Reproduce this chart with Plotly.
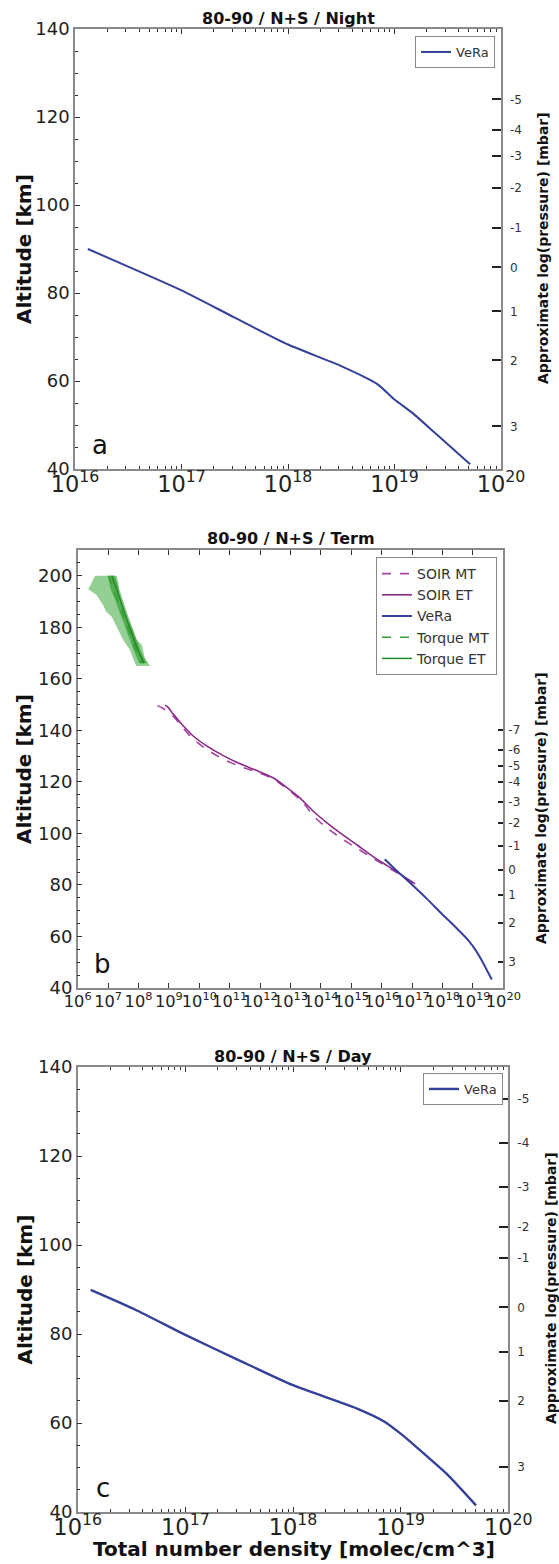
import plotly.graph_objects as go

W, H = 559, 1564
FONT = "DejaVu Sans"

# ---------------- data ----------------
# Panel a: Night, VeRa
night_vera_n = [1.32e16, 3.16e16, 1.0e17, 3.16e17, 1.0e18, 3.16e18, 6.9e18, 1.0e19, 1.48e19, 2.45e19, 5.13e19]
night_vera_alt = [90, 86.0, 80.6, 74.4, 68.3, 63.4, 59.3, 55.8, 52.7, 48.0, 41.1]

# Panel b: Terminator
term_vera_n = [1.26e16, 2.82e16, 1.0e17, 3.16e17, 1.0e18, 2.82e18, 7.08e18, 1.26e19, 2.0e19, 4.17e19]
term_vera_alt = [90, 86.0, 80.1, 74.5, 68.5, 63.4, 58.5, 54.5, 50.5, 43.3]

soir_et_n = [7.41e8, 8.91e8, 1.41e9, 2.95e9, 6.31e9, 1.74e10, 6.17e10, 2.19e11, 7.76e11, 2.69e12,
             7.59e12, 2.04e13, 5.62e13, 1.55e14, 4.27e14, 1.51e15, 5.25e15, 1.45e16, 3.98e16, 1.26e17]
soir_et_alt = [149.8, 149.2, 146.2, 141.8, 137.8, 134.0, 130.2, 127.0, 124.4, 121.6,
               117.8, 113.8, 108.6, 104.2, 100.2, 95.6, 91.0, 87.6, 84.3, 80.4]

soir_mt_n = [4.17e8, 6.31e8, 1.41e9, 2.95e9, 6.31e9, 1.74e10, 6.17e10, 2.19e11, 7.76e11, 2.69e12,
             7.59e12, 2.04e13, 3.55e13, 5.62e13, 1.55e14, 4.27e14, 1.51e15, 5.25e15, 1.45e16, 3.98e16, 1.12e17]
soir_mt_alt = [149.6, 148.6, 145.4, 140.8, 136.6, 132.6, 128.8, 126.0, 123.8, 121.2,
               117.4, 113.2, 110.0, 106.8, 102.2, 98.4, 94.3, 90.3, 87.2, 84.0, 80.6]

torque_alt = [200, 195, 190, 185, 180, 175, 170, 166]
torque_et_n = [1.32e7, 1.91e7, 2.63e7, 3.63e7, 5.01e7, 7.24e7, 1.05e8, 1.51e8]
torque_mt_n = [1.05e7, 1.51e7, 2.14e7, 3.02e7, 4.27e7, 6.17e7, 8.91e7, 1.26e8]
torque_inner_lo = [9.55e6, 1.20e7, 1.78e7, 2.51e7, 3.55e7, 5.25e7, 7.59e7, 1.05e8]
torque_inner_hi = [1.66e7, 2.29e7, 3.16e7, 4.37e7, 6.17e7, 8.91e7, 1.26e8, 1.91e8]

torque_outer_lo_alt = [200, 195.8, 194.8, 192.5, 188.6, 186.1, 184.1, 180.2, 175.1, 171.2, 166, 165]
torque_outer_lo_n = [3.72e6, 2.51e6, 2.24e6, 4.17e6, 6.92e6, 8.51e6, 1.32e7, 1.91e7, 3.16e7, 5.25e7, 7.59e7, 8.71e7]
torque_outer_hi_alt = [165, 168, 173.2, 175.1, 179.6, 183.5, 188, 191.9, 197.1, 200]
torque_outer_hi_n = [2.40e8, 1.62e8, 1.29e8, 8.71e7, 6.03e7, 4.07e7, 2.82e7, 2.34e7, 2.19e7, 1.91e7]

# Panel c: Day, VeRa
day_vera_n = [1.32e16, 3.47e16, 1.0e17, 3.09e17, 1.0e18, 3.89e18, 7.08e18, 1.0e19, 1.51e19, 2.75e19, 5.01e19]
day_vera_alt = [89.9, 85.4, 79.8, 74.2, 68.5, 63.3, 60.3, 57.6, 53.9, 48.3, 41.5]

# right-hand pressure axes (altitude of each log10(p) label)
p_labels_a = ["-5", "-4", "-3", "-2", "-1", "0", "1", "2", "3"]
p_alt_a = [124.0, 117.0, 111.1, 103.9, 94.8, 85.8, 75.8, 64.7, 49.7]
p_labels_b = ["-7", "-6", "-5", "-4", "-3", "-2", "-1", "0", "1", "2", "3"]
p_alt_b = [140.2, 132.4, 126.2, 120.0, 112.3, 104.0, 95.0, 85.9, 76.0, 65.2, 50.0]
p_labels_c = ["-5", "-4", "-3", "-2", "-1", "0", "1", "2", "3"]
p_alt_c = [132.9, 123.0, 113.0, 104.0, 97.1, 86.0, 76.0, 65.0, 50.1]

titles = ["80-90 / N+S / Night", "80-90 / N+S / Term", "80-90 / N+S / Day"]
panel_letters = ["a", "b", "c"]

# ---------------- colors ----------------
VERA = "#34409a"
SOIR = "#8b2a8b"
SOIR_MT = "#a444a4"
TORQ = "#238a23"
TORQ_MT = "#33a033"

# ---------------- layout geometry (px) ----------------
panels = [
    dict(x0=75, x1=501, y0=29, y1=469, yr=[40, 140], xr=[16, 20]),
    dict(x0=77.7, x1=503.3, y0=550, y1=988, yr=[40, 210], xr=[6, 20]),
    dict(x0=77.7, x1=508.3, y0=1067, y1=1512, yr=[40, 140], xr=[16, 20]),
]

def fx(px):
    return px / W

def fy(py):
    return 1 - py / H

fig = go.Figure()

# Panel a
fig.add_trace(go.Scatter(x=night_vera_n, y=night_vera_alt, mode="lines", name="VeRa",
                         line=dict(color=VERA, width=2, shape="spline", smoothing=0.6),
                         xaxis="x", yaxis="y", legend="legend"))

# Panel b: torque bands
fig.add_trace(go.Scatter(x=torque_outer_lo_n + torque_outer_hi_n,
                         y=torque_outer_lo_alt + torque_outer_hi_alt,
                         mode="lines", fill="toself", fillcolor="rgba(60,170,60,0.55)",
                         line=dict(width=0, color="rgba(60,170,60,0.55)"),
                         showlegend=False, xaxis="x2", yaxis="y3", hoverinfo="skip"))
fig.add_trace(go.Scatter(x=torque_inner_lo + torque_inner_hi[::-1],
                         y=torque_alt + torque_alt[::-1],
                         mode="lines", fill="toself", fillcolor="rgba(40,150,40,0.6)",
                         line=dict(width=0, color="rgba(40,150,40,0.6)"),
                         showlegend=False, xaxis="x2", yaxis="y3", hoverinfo="skip"))
fig.add_trace(go.Scatter(x=soir_mt_n, y=soir_mt_alt, mode="lines", name="SOIR MT",
                         line=dict(color=SOIR_MT, width=1.6, dash="dash", shape="spline", smoothing=0.6),
                         xaxis="x2", yaxis="y3", legend="legend2"))
fig.add_trace(go.Scatter(x=soir_et_n, y=soir_et_alt, mode="lines", name="SOIR ET",
                         line=dict(color=SOIR, width=1.6, shape="spline", smoothing=0.6),
                         xaxis="x2", yaxis="y3", legend="legend2"))
fig.add_trace(go.Scatter(x=term_vera_n, y=term_vera_alt, mode="lines", name="VeRa",
                         line=dict(color=VERA, width=2, shape="spline", smoothing=0.6),
                         xaxis="x2", yaxis="y3", legend="legend2"))
fig.add_trace(go.Scatter(x=torque_mt_n, y=torque_alt, mode="lines", name="Torque MT",
                         line=dict(color=TORQ_MT, width=1.5, dash="dash"),
                         xaxis="x2", yaxis="y3", legend="legend2"))
fig.add_trace(go.Scatter(x=torque_et_n, y=torque_alt, mode="lines", name="Torque ET",
                         line=dict(color=TORQ, width=1.5),
                         xaxis="x2", yaxis="y3", legend="legend2"))

# Panel c
fig.add_trace(go.Scatter(x=day_vera_n, y=day_vera_alt, mode="lines", name="VeRa",
                         line=dict(color=VERA, width=2.4, shape="spline", smoothing=0.6),
                         xaxis="x3", yaxis="y5", legend="legend3"))

# dummy traces for right axes
for xa, ya in [("x", "y2"), ("x2", "y4"), ("x3", "y6")]:
    fig.add_trace(go.Scatter(x=[None], y=[None], xaxis=xa, yaxis=ya, showlegend=False, hoverinfo="skip"))

SPINE = "#8a8a8a"
layout = dict(template="none", width=W, height=H, margin=dict(l=0, r=0, t=0, b=0, pad=0),
              paper_bgcolor="white", plot_bgcolor="white",
              font=dict(family=FONT, color="#222"), showlegend=True)

p_sets = [(p_alt_a, p_labels_a, 9), (p_alt_b, p_labels_b, 5), (p_alt_c, p_labels_c, 9)]
annotations = []
for i, p in enumerate(panels):
    xn = "xaxis" if i == 0 else f"xaxis{i+1}"
    yl = "yaxis" if i == 0 else f"yaxis{2*i+1}"
    yr_ = f"yaxis{2*i+2}"
    xref = "x" if i == 0 else f"x{i+1}"
    yref = "y" if i == 0 else f"y{2*i+1}"
    big = i != 1
    xa = dict(type="log", range=p["xr"], domain=[fx(p["x0"]), fx(p["x1"])],
              anchor=yref, dtick=1, exponentformat="power", showgrid=False, automargin=False,
              zeroline=False, showline=True, linecolor=SPINE, linewidth=1.5, tickangle=0,
              mirror="ticks", ticks="inside", ticklen=5, tickwidth=1.2, tickcolor="#333",
              ticklabelstandoff=-5 if big else -2,
              tickfont=dict(size=18 if big else 13, color="#222"))
    if big:
        xa["minor"] = dict(ticks="inside", ticklen=3, tickcolor="#333", dtick="D1", showgrid=False)
    layout[xn] = xa
    layout[yl] = dict(range=p["yr"], domain=[fy(p["y1"]), fy(p["y0"])], anchor=xref,
                      dtick=20, showgrid=False, zeroline=False, showline=True, linecolor=SPINE,
                      linewidth=1.5, mirror=True, ticks="inside", ticklen=5, tickwidth=1.2,
                      automargin=False, tickcolor="#333", tickfont=dict(size=18, color="#222"),
                      minor=dict(ticks="inside", ticklen=3, tickcolor="#333", dtick=5, showgrid=False))
    alts, labs, tl = p_sets[i]
    layout[yr_] = dict(range=p["yr"], overlaying=yref, side="right", anchor=xref,
                       tickmode="array", tickvals=alts, ticktext=labs, showgrid=False,
                       automargin=False, zeroline=False, showline=False, ticks="inside", ticklen=tl,
                       tickwidth=2, tickcolor="#222", tickfont=dict(size=12, color="#333"),
                       ticklabelstandoff=8 if big else 4)
    cx = (p["x0"] + p["x1"]) / 2
    annotations.append(dict(text="<b>" + titles[i] + "</b>", x=fx(cx), y=fy(p["y0"] - 11),
                            xref="paper", yref="paper", showarrow=False,
                            font=dict(size=16, color="#111"), xanchor="center", yanchor="middle"))
    annotations.append(dict(text="<b>Altitude [km]</b>", x=fx(24), y=fy((p["y0"] + p["y1"]) / 2),
                            xref="paper", yref="paper", showarrow=False, textangle=-90,
                            font=dict(size=20, color="#111"), xanchor="center", yanchor="middle"))
    annotations.append(dict(text=panel_letters[i], x=fx(p["x0"] + 25), y=fy(p["y1"] - 24),
                            xref="paper", yref="paper", showarrow=False,
                            font=dict(size=26, color="#111"), xanchor="center", yanchor="middle"))

for xc, yc in [(543, 248), (541, 808), (551, 1288)]:
    annotations.append(dict(text="<b>Approximate log(pressure) [mbar]</b>", x=fx(xc), y=fy(yc),
                            xref="paper", yref="paper", showarrow=False, textangle=-90,
                            font=dict(size=14, color="#111"), xanchor="center", yanchor="middle"))

annotations.append(dict(text="<b>Total number density [molec/cm^3]</b>", x=fx(294), y=fy(1549),
                        xref="paper", yref="paper", showarrow=False,
                        font=dict(size=20, color="#111"), xanchor="center", yanchor="middle"))
layout["annotations"] = annotations

leg_common = dict(bgcolor="white", bordercolor="#888", borderwidth=1, xanchor="right",
                  yanchor="top", font=dict(size=13, color="#333"), itemwidth=30, tracegroupgap=0)
layout["legend"] = dict(leg_common, x=fx(495), y=fy(36))
layout["legend2"] = dict(leg_common, x=fx(497), y=fy(557), font=dict(size=14, color="#333"))
layout["legend3"] = dict(leg_common, x=fx(503), y=fy(1073))

fig.update_layout(**layout)
fig.write_html("out.html", config={"displayModeBar": False},
               post_script="document.body.style.margin='0';document.body.style.padding='0';")
